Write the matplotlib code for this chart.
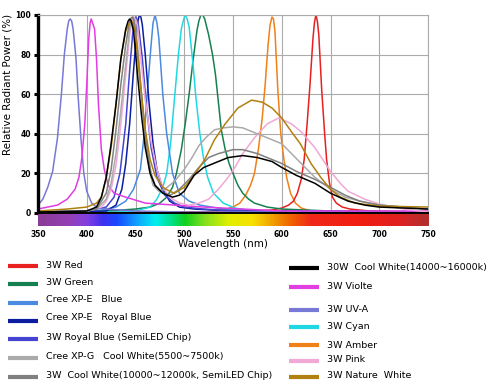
import numpy as np
import matplotlib
matplotlib.use("Agg")
import matplotlib.pyplot as plt
from matplotlib.colors import LinearSegmentedColormap
from matplotlib.lines import Line2D

W, H = 492, 384

# spectra (wavelength nm, relative power %)
red_wl = [350, 550, 575, 590, 600, 607, 612, 616, 620, 623, 626, 629, 632, 633.5, 635, 636.5, 638, 641, 644, 646, 649, 652, 656, 662, 670, 690, 750]
red_pw = [0.3, 0.5, 1, 1.5, 2.5, 4, 6, 10, 17, 27, 45, 65, 88, 96, 100, 97, 90, 62, 40, 27, 15, 8, 5, 3, 2, 1, 0.5]

green_wl = [350, 420, 450, 465, 475, 482, 488, 492, 497, 501, 505, 509, 513, 515, 517, 519, 521, 525, 529, 532, 535, 538, 542, 546, 550, 555, 560, 566, 572, 585, 600, 650, 750]
green_pw = [0.5, 1, 2, 3, 5, 8, 13, 20, 32, 45, 60, 77, 92, 97, 100, 100, 98, 90, 80, 70, 56, 42, 32, 25, 20, 14, 10, 7, 5, 3, 2, 1, 0.5]

blue_wl = [350, 410, 430, 440, 448, 455, 459, 462, 466, 468, 470, 472, 474, 478, 482, 488, 495, 505, 516, 540, 600, 750]
blue_pw = [0.5, 1, 3, 6, 12, 22, 40, 60, 85, 96, 100, 96, 88, 60, 40, 20, 10, 6, 4, 2, 1, 0.5]

royal_wl = [350, 420, 430, 436, 440, 444, 448, 451, 452.5, 454, 455.5, 457, 460, 464, 468, 472, 478, 485, 495, 510, 550, 750]
royal_pw = [0.3, 1, 4, 12, 25, 45, 72, 90, 97, 100, 99, 95, 80, 55, 35, 22, 12, 6, 3, 2, 1, 0.5]

semi_wl = [350, 400, 420, 428, 434, 440, 444, 447, 448.5, 450, 451.5, 453, 457, 461, 466, 472, 480, 490, 500, 520, 550, 750]
semi_pw = [0.5, 1, 3, 8, 20, 45, 72, 90, 96, 99, 98, 95, 78, 55, 33, 18, 9, 5, 3, 2, 1, 0.5]

xpg_wl = [350, 400, 410, 420, 425, 430, 435, 440, 444, 445.5, 447, 448.5, 450, 453, 456, 460, 464, 468, 474, 480, 490, 500, 508, 515, 522, 531, 540, 550, 560, 570, 580, 590, 600, 610, 620, 634, 650, 665, 680, 700, 725, 750]
xpg_pw = [0.5, 1, 2, 7, 15, 30, 52, 75, 93, 97, 99, 98, 94, 80, 60, 38, 22, 14, 11, 12, 16, 22, 28, 34, 38, 42, 43, 43.5, 43, 41, 39, 37, 35, 30, 25, 18, 12, 8, 6, 4, 3, 2]

cw12_wl = [350, 400, 410, 420, 425, 430, 435, 440, 444, 445.5, 447, 448.5, 450, 454, 458, 462, 466, 470, 478, 486, 495, 505, 515, 525, 535, 550, 560, 575, 590, 600, 615, 634, 650, 665, 680, 700, 725, 750]
cw12_pw = [0.5, 1, 2, 10, 22, 42, 65, 85, 97, 98.5, 99, 97, 92, 72, 50, 32, 20, 14, 10, 9, 12, 17, 23, 28, 30, 32, 32, 30, 27, 25, 21, 17, 13, 9, 6, 4, 3, 2]

cw16_wl = [350, 400, 410, 415, 420, 425, 430, 435, 440, 442.5, 444, 445.5, 448, 452, 456, 460, 465, 470, 478, 488, 495, 500, 505, 510, 520, 530, 545, 560, 575, 590, 600, 615, 634, 650, 668, 685, 700, 725, 750]
cw16_pw = [0.5, 1, 3, 8, 18, 35, 55, 78, 93, 97, 98, 97, 92, 70, 50, 33, 20, 14, 10, 8, 9, 11, 15, 19, 23, 25, 28, 29, 28, 26, 23, 19, 15, 10, 6, 4, 3, 2.5, 2]

violet_wl = [350, 360, 370, 380, 388, 392, 395, 398, 400, 402, 403.5, 404.5, 406, 408, 410, 412, 415, 418, 422, 428, 440, 460, 490, 520, 560, 600, 750]
violet_pw = [2, 3, 4, 7, 12, 18, 28, 45, 65, 88, 96, 98, 96, 93, 78, 55, 32, 22, 14, 10, 8, 5, 4, 3, 2, 1, 1]

uva_wl = [350, 355, 360, 365, 370, 374, 377, 380, 381.5, 383, 384.5, 386, 389, 391, 394, 397, 400, 405, 410, 420, 450, 500, 750]
uva_pw = [4, 7, 13, 21, 38, 60, 80, 93, 97, 98, 97, 93, 78, 60, 38, 20, 11, 5, 3, 2, 1, 0.5, 0.5]

cyan_wl = [350, 430, 450, 465, 472, 478, 482, 486, 490, 494, 497, 499.5, 501, 503, 505, 509, 512, 516, 520, 524, 530, 540, 552, 570, 750]
cyan_pw = [0.3, 0.5, 1, 3, 7, 13, 20, 35, 58, 80, 93, 98, 100, 98, 94, 75, 58, 40, 27, 18, 10, 5, 2.5, 1, 0.5]

amber_wl = [350, 520, 540, 550, 557, 563, 568, 572, 576, 580, 583, 586, 588, 590, 591.5, 593, 596, 599, 602, 605, 609, 614, 620, 630, 750]
amber_pw = [0.3, 0.5, 1.5, 3, 5, 9, 14, 20, 32, 48, 65, 85, 95, 99, 98, 92, 62, 40, 28, 18, 10, 5, 2.5, 1, 0.5]

pink_wl = [350, 400, 415, 420, 425, 430, 435, 440, 444, 446, 448, 450, 452, 455, 460, 466, 472, 478, 485, 495, 505, 515, 525, 535, 545, 552, 560, 572, 585, 597, 610, 620, 634, 650, 660, 668, 685, 700, 725, 750]
pink_pw = [0.5, 1, 3, 6, 12, 24, 45, 70, 90, 96, 99, 98, 95, 80, 57, 36, 22, 13, 8, 5, 4, 5, 7, 12, 18, 23, 30, 38, 45, 48, 45, 41, 33, 21, 15, 11, 7, 4.5, 2, 0.5]

nature_wl = [350, 380, 400, 410, 415, 420, 425, 430, 435, 440, 444, 446, 448, 450, 455, 460, 465, 470, 478, 485, 490, 500, 510, 521, 531, 542, 555, 569, 580, 590, 600, 610, 619, 630, 640, 650, 660, 675, 700, 750]
nature_pw = [1, 2, 3, 5, 8, 18, 33, 55, 78, 92, 96, 97, 95, 90, 65, 42, 27, 19, 13, 11, 10, 13, 19, 27, 37, 45, 53, 57, 56, 53, 48, 41, 35, 25, 18, 12, 8, 5, 3.5, 3]

# drawing order (back to front), colours, legend labels
series = [
    ("amber", amber_wl, amber_pw, "#f08018", "3W Amber"),
    ("red", red_wl, red_pw, "#e82020", "3W Red"),
    ("green", green_wl, green_pw, "#178050", "3W Green"),
    ("cyan", cyan_wl, cyan_pw, "#20d8e4", "3W Cyan"),
    ("blue", blue_wl, blue_pw, "#4a8ae0", "Cree XP-E   Blue"),
    ("royal", royal_wl, royal_pw, "#0c1ea0", "Cree XP-E   Royal Blue"),
    ("semi", semi_wl, semi_pw, "#4444d0", "3W Royal Blue (SemiLED Chip)"),
    ("uva", uva_wl, uva_pw, "#7878d6", "3W UV-A"),
    ("violet", violet_wl, violet_pw, "#e23de2", "3W Violte"),
    ("pink", pink_wl, pink_pw, "#f0a8d4", "3W Pink"),
    ("xpg", xpg_wl, xpg_pw, "#aaaaaa", "Cree XP-G   Cool White(5500~7500k)"),
    ("cw12", cw12_wl, cw12_pw, "#808080", "3W  Cool White(10000~12000k, SemiLED Chip)"),
    ("nature", nature_wl, nature_pw, "#b08010", "3W Nature  White"),
    ("cw16", cw16_wl, cw16_pw, "#000000", "30W  Cool White(14000~16000k)"),
]
colors = {key: c for key, _, _, c, _ in series}
labels = {key: lab for key, _, _, _, lab in series}

left_legend = ["red", "green", "blue", "royal", "semi", "xpg", "cw12"]
left_line_y = [265.7, 283.7, 303.3, 321, 339.3, 358.3, 376.7]
left_text_y = [265.3, 282.7, 300, 317.7, 337.3, 356.7, 375]
right_legend = ["cw16", "violet", "uva", "cyan", "amber", "pink", "nature"]
right_line_y = [268.3, 287, 310, 327, 344.7, 361, 376.7]
right_text_y = [267.3, 286.7, 309.3, 326.7, 345, 359.3, 375.7]

# visible spectrum strip under the axis
strip_wl = [350, 380, 400, 415, 430, 450, 470, 485, 500, 520, 545, 570, 590, 610, 630, 680, 720, 750]
strip_col = ["#8a3c96", "#9440b4", "#8040e0", "#4030f0", "#1848ff", "#10a0ff", "#00f0f0", "#00e090",
             "#10d020", "#80e020", "#e0f000", "#f8e000", "#f0a000", "#f06000", "#f02818", "#f01e10",
             "#e02020", "#b03030"]

x_ticks = [350, 400, 450, 500, 550, 600, 650, 700, 750]
y_ticks = [0, 20, 40, 60, 80, 100]


def fx(px):
    return px / W


def fy(py):
    return 1 - py / H


def main():
    plt.rcParams["font.family"] = "DejaVu Sans"
    fig = plt.figure(figsize=(W / 100, H / 100), dpi=100)

    ax = fig.add_axes([fx(38), fy(213), 390 / W, 198 / H])
    for key, wl, pw, color, label in series:
        ax.plot(wl, pw, color=color, linewidth=1.1, solid_joinstyle="round")

    ax.set_xlim(350, 750)
    ax.set_ylim(0, 100)
    ax.set_xticks(x_ticks)
    ax.set_yticks(y_ticks)
    ax.grid(True, color="#ababab", linewidth=0.8)
    ax.set_axisbelow(True)
    ax.tick_params(axis="x", length=0, labelbottom=False)
    ax.tick_params(axis="y", length=3, width=2.2, pad=2, labelsize=5.5, colors="k")
    for lab in ax.get_yticklabels():
        lab.set_fontweight("bold")
    ax.spines["left"].set_linewidth(2.4)
    ax.spines["bottom"].set_linewidth(1.4)
    for side in ["top", "right"]:
        ax.spines[side].set_color("#ababab")
        ax.spines[side].set_linewidth(0.8)

    # spectrum strip
    bar = fig.add_axes([fx(38), fy(226), 390 / W, 12 / H])
    pos = [(w - 350) / 400 for w in strip_wl]
    cmap = LinearSegmentedColormap.from_list("vis", list(zip(pos, strip_col)))
    grad = np.linspace(0, 1, 400).reshape(1, -1)
    bar.imshow(grad, aspect="auto", cmap=cmap, extent=[350, 750, 0, 1])
    bar.set_xlim(350, 750)
    bar.set_xticks(x_ticks)
    bar.set_xticklabels([str(t) for t in x_ticks], fontsize=5.5, fontweight="bold")
    bar.set_yticks([])
    bar.tick_params(axis="x", length=0, pad=3)
    for s in bar.spines.values():
        s.set_visible(False)

    fig.text(fx(223), fy(244), "Wavelength (nm)", fontsize=7.5, ha="center", va="center")
    fig.text(fx(8), fy(84), "Relative Radiant Power (%)", fontsize=7.5,
             rotation=90, ha="center", va="center")

    # hand-placed legend in two columns
    for keys, line_y, text_y, x0, x1, xt in [
        (left_legend, left_line_y, left_text_y, 8, 38, 46),
        (right_legend, right_line_y, right_text_y, 289, 319, 327),
    ]:
        for key, ly, ty in zip(keys, line_y, text_y):
            fig.add_artist(Line2D([fx(x0), fx(x1)], [fy(ly), fy(ly)], color=colors[key],
                                  linewidth=3, transform=fig.transFigure, solid_capstyle="butt"))
            fig.text(fx(xt), fy(ty), labels[key], fontsize=6.8, ha="left", va="center")

    fig.savefig("out.png", dpi=100)


if __name__ == "__main__":
    main()
